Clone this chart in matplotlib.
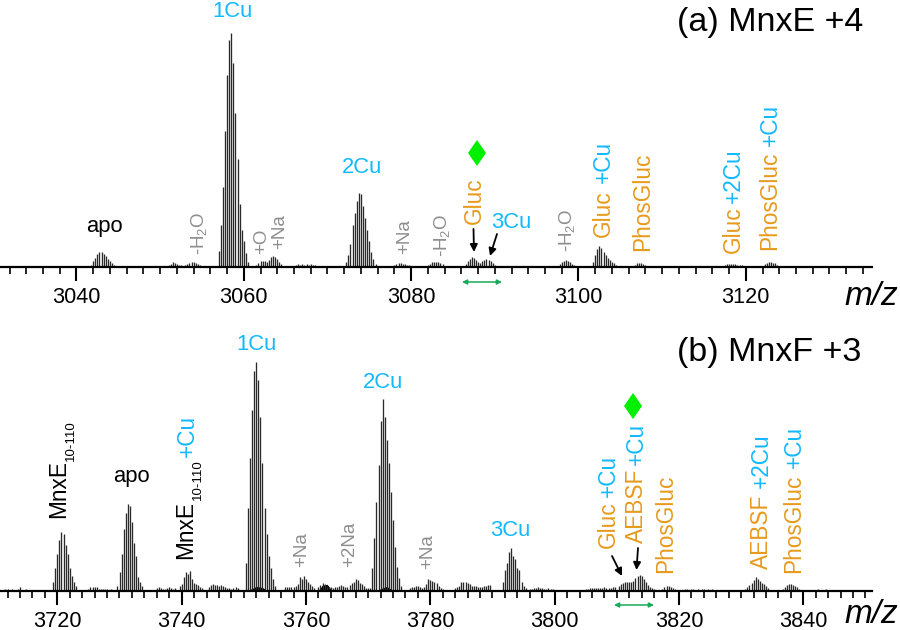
"""MnxE / MnxF native mass spectra, two stacked panels."""

import matplotlib
matplotlib.use("Agg")

import matplotlib.pyplot as plt

plt.rcParams["font.family"] = ["Liberation Sans", "DejaVu Sans"]
plt.rcParams["mathtext.fontset"] = "custom"
plt.rcParams["mathtext.rm"] = "Liberation Sans"
plt.rcParams["mathtext.it"] = "Liberation Sans:italic"
plt.rcParams["mathtext.default"] = "regular"

CYAN = "#12B9FF"
ORANGE = "#E79A1C"
GRAY = "#8E8E8E"
GREEN = "#1AA85A"
LIME = "#00F000"

# panel (a): isotope envelopes, first m/z and relative intensity (%), spacing 1/4
a_starts = [3041.75, 3048.5, 3051.0, 3053.0, 3057.0, 3061.5, 3066.0, 3072.25,
            3077.75, 3082.0, 3086.5, 3088.25, 3097.5, 3101.75, 3106.5, 3117.5, 3122.0]
a_apo = [1, 2.5, 4, 5.5, 6.4, 6.4, 5.5, 4.5, 3.5, 2.5, 1.5, 0.8, 0.4]
a_bg1 = [0.4, 0.5, 0.5, 0.6, 0.5, 0.5, 0.6, 0.5, 0.6, 0.5]
a_bg2 = [0.8, 1.4, 2, 1.9, 1.4, 1.0, 0.7, 0.5, 0.4]
a_h2o1 = [0.8, 1.2, 1.8, 2, 2, 1.6, 1.4, 1.0, 0.6, 0.3]
a_1cu = [7, 18, 34, 58, 82, 97, 100, 87, 66, 46, 27, 16, 11, 6, 2]
a_na1 = [0.8, 1.6, 2.4, 2.6, 2.5, 2.3, 3.0, 4.2, 4.5, 4.3, 3.4, 2.0, 1.2, 0.6]
a_bg3 = [0.6, 1.0, 1.1, 1.0, 1.1, 1.0, 1.1, 1.0, 1.1, 1.0, 0.8, 0.5]
a_2cu = [2, 5, 10, 18, 23, 28, 31.6, 31, 26, 21, 16, 11, 6.4, 3.6, 1.4]
a_na2 = [0.5, 0.8, 1.2, 1.7, 1.7, 1.4, 1.2, 1.0, 0.7, 0.4]
a_h2o2 = [0.7, 1.3, 2, 2.3, 2.3, 2.0, 1.7, 1.2, 0.6]
a_gluc = [1.2, 2.5, 3.6, 4.3, 4.0, 3.2, 2.2]
a_3cu = [1.5, 2.6, 3.2, 3.4, 3.0, 2.5, 1.8, 1.0, 0.5]
a_h2o3 = [0.6, 1.2, 2, 2.6, 2.8, 2.5, 2.0, 1.4, 0.8, 0.4]
a_gluc_cu = [2, 5, 7.5, 8.8, 8, 6.5, 5.3, 4, 3, 2.2, 1.6, 1.0, 0.5]
a_phos = [0.5, 1.0, 1.5, 1.7, 1.5, 1.2, 0.9, 0.6, 0.3]
a_gluc_2cu = [0.7, 1.2, 1.4, 1.4, 1.3, 1.1, 1.0, 0.9, 0.7, 0.4]
a_phos_cu = [0.6, 1.1, 1.7, 2.1, 2.1, 1.9, 1.5, 1.0, 0.4]

# panel (b): same thing, spacing 1/3
b_starts = [3711.33, 3714.0, 3719.33, 3725.0, 3729.67, 3736.0, 3739.67, 3744.33,
            3750.33, 3756.67, 3758.67, 3762.0, 3765.0, 3770.67, 3776.67, 3779.0,
            3784.0, 3791.67, 3796.0, 3805.0, 3810.33, 3817.33, 3821.0, 3830.67, 3836.67, 3842.0]
b_bg1 = [0.5, 0.7, 0.6, 0.5, 0.6, 0.5, 0.4, 0.6]
b_bg2 = [1.4, 0.5, 0.5, 0.6, 0.4, 0.5]
b_mnxe = [4, 10, 16, 22, 25.5, 24.8, 20, 16, 10, 6.5, 4, 2]
b_bg3 = [0.8, 1.5, 1.8, 1.7, 1.4, 0.9, 0.7, 0.6, 0.8, 0.6, 0.5, 0.7]
b_apo = [2, 8, 16, 27, 34, 38, 37, 30, 21, 15, 6, 4, 2]
b_bg4 = [1.0, 1.5, 1.2, 0.9, 0.7, 1.0, 1.4, 1.1, 0.8, 1.2]
b_mnxe_cu = [2, 3, 6, 8, 7.5, 8.7, 5, 3.5, 3, 2.5, 1.5, 1]
b_bg5 = [1.5, 2.5, 2.8, 2.6, 2.4, 2.2, 2.6, 2.2, 1.8, 1.3, 1.0, 0.8, 1.0, 1.5, 1.0]
b_1cu = [12, 36, 58, 79, 96, 100, 92, 76, 56, 36, 25, 15, 10, 5, 2]
b_bg6 = [1.6, 1.7, 1.4, 1.5, 1.8, 2.0]
b_na1 = [3, 6, 5, 6.5, 5, 4, 3, 2, 1]
b_bg7 = [1.5, 2.4, 3.2, 3.0, 2.2, 1.6, 1.4, 1.2, 1.5]
b_2na = [1.5, 2.0, 2.4, 2.0, 1.7, 1.5, 2.5, 3.2, 3.8, 5, 4.6, 3.5, 3, 2, 1.2, 1.0, 1.3]
b_2cu = [10, 23, 39, 55, 74, 84, 76, 66, 56, 43, 31, 19, 10.5, 5.4, 2]
b_bg8 = [1.0, 1.4, 1.6, 1.9, 2.2, 1.4, 1.0]
b_na3 = [1.5, 2.8, 5, 4.6, 4.2, 4, 3.2, 2, 1.2, 0.8]
b_bg9 = [1.0, 1.6, 2.2, 3.8, 4.0, 3.9, 3.2, 2.8, 2.2, 2.0, 2.0, 1.8, 1.7, 1.8, 1.9, 2.2, 2.4, 2.6]
b_3cu = [3.6, 9, 12, 17, 18.5, 15, 14, 10, 9, 4, 2, 1]
b_bg10 = [0.8, 0.9, 1.1, 1.2, 1.5, 1.3, 1.1, 0.8, 0.9, 1.0, 0.7, 0.6]
b_bg11 = [0.6, 0.9, 1.0, 1.2, 1.3, 1.1, 1.0, 1.1, 1.2, 1.4, 1.2, 1.0, 1.2, 1.5, 1.6]
b_gluc_aebsf = [2, 2.8, 3.4, 3.6, 3.8, 3.6, 3.9, 4.2, 5.5, 6.4, 7, 6.6, 5, 3.8, 2.6, 1.8, 1.2, 0.8]
b_phos = [0.8, 1.4, 2, 1.9, 1.5, 1.0, 0.6]
b_bg12 = [0.6, 0.7, 0.5, 0.6, 0.7, 0.5, 0.6, 0.5, 0.7, 0.6, 0.5, 0.6, 0.5, 0.6]
b_aebsf_2cu = [0.8, 1.6, 2.4, 3.2, 4.8, 6, 5, 4.4, 3.4, 2.8, 2.0, 1.2]
b_phos_cu = [0.8, 1.5, 2.4, 2.8, 3, 2.6, 2.0, 1.4, 0.9, 0.5]
b_bg13 = [0.5, 0.6, 0.5, 0.4, 0.5, 0.6, 0.5, 0.4]

# the broad black humps under the strongest envelopes in (b)
lump_mz = [3750.5, 3751.5, 3752.0, 3753.0, 3753.8, 3762.0, 3762.6, 3763.4, 3764.2,
           3771.3, 3772.3, 3773.0, 3774.0]
lump_int = [0, 1.2, 1.9, 1.4, 0, 0, 2.4, 2.8, 0, 0, 1.2, 1.9, 0]

a_clusters = [a_apo, a_bg1, a_bg2, a_h2o1, a_1cu, a_na1, a_bg3, a_2cu, a_na2, a_h2o2,
              a_gluc, a_3cu, a_h2o3, a_gluc_cu, a_phos, a_gluc_2cu, a_phos_cu]
b_clusters = [b_bg1, b_bg2, b_mnxe, b_bg3, b_apo, b_bg4, b_mnxe_cu, b_bg5, b_1cu, b_bg6,
              b_na1, b_bg7, b_2na, b_2cu, b_bg8, b_na3, b_bg9, b_3cu, b_bg10, b_bg11,
              b_gluc_aebsf, b_phos, b_bg12, b_aebsf_2cu, b_phos_cu, b_bg13]

a_ticks = [3040, 3060, 3080, 3100, 3120]
b_ticks = [3720, 3740, 3760, 3780, 3800, 3820, 3840]

W, H = 900, 630


def draw_panel(fig, baseline_px, top_px, px_per_pct, xlim, starts, clusters, spacing, ticks):
    ax = fig.add_axes([0, 1 - baseline_px / H, 871.7 / W, (baseline_px - top_px) / H])
    ax.patch.set_alpha(0)
    for start, heights in zip(starts, clusters):
        mz = [start + i * spacing for i in range(len(heights))]
        ax.vlines(mz, 0, heights, color="#2a2a2a", linewidth=0.95)
    ax.set_xlim(*xlim)
    ax.set_ylim(0, (baseline_px - top_px) / px_per_pct)
    for side in ("left", "right", "top"):
        ax.spines[side].set_visible(False)
    ax.spines["bottom"].set_linewidth(1.6)
    ax.set_yticks([])
    ax.set_xticks(ticks)
    minor = range(int(xlim[0]) + 1, int(xlim[1]) + 1)
    ax.set_xticks([m for m in minor if m % 2 == 0], minor=True)
    ax.tick_params(axis="x", which="major", length=10, width=1.5, pad=4.5, labelsize=15.6)
    ax.tick_params(axis="x", which="minor", length=5, width=1.2)
    return ax


fig = plt.figure(figsize=(W / 100, H / 100), dpi=100)
ax_a = draw_panel(fig, 267, 0, 2.34, (3030.86, 3135.05), a_starts, a_clusters, 0.25, a_ticks)
ax_b = draw_panel(fig, 590.7, 320, 2.287, (3710.78, 3851.0), b_starts, b_clusters, 1 / 3, b_ticks)
ax_b.fill_between(lump_mz, 0, lump_int, color="black", linewidth=0)

# annotations live on a pixel-sized overlay
ov = fig.add_axes([0, 0, 1, 1])
ov.set_xlim(0, W)
ov.set_ylim(H, 0)
ov.axis("off")


def flat(x, y, s, color="black", size=15.8):
    ov.text(x, y, s, color=color, fontsize=size, ha="center", va="baseline")


def up(x, y, s, color=ORANGE, size=16.3):
    ov.text(x, y, s, color=color, fontsize=size, rotation=90, ha="center", va="bottom")


def arrow(x0, y0, x1, y1):
    ov.annotate("", xy=(x1, y1), xytext=(x0, y0),
                arrowprops=dict(arrowstyle="-|>", color="black", lw=1.3, mutation_scale=11,
                                shrinkA=0, shrinkB=0))


def span(x0, x1, y):
    ov.annotate("", xy=(x1, y), xytext=(x0, y),
                arrowprops=dict(arrowstyle="<|-|>", color=GREEN, lw=1.1, mutation_scale=7,
                                shrinkA=0, shrinkB=0))


def diamond(x, y):
    ov.fill([x - 9, x, x + 9, x], [y, y - 13, y, y + 13], color=LIME, linewidth=0)


H2O = "-H$_2$O"

# panel (a)
ov.text(677, 31, "(a) MnxE +4", fontsize=24.5, ha="left", va="baseline")
flat(233, 17, "1Cu", CYAN)
flat(362, 173, "2Cu", CYAN)
flat(104, 232, "apo")
flat(511, 228, "3Cu", CYAN)
up(199, 255, H2O, GRAY, 13.5)
up(262, 254, "+O", GRAY, 13.5)
up(280, 249, "+Na", GRAY, 13.5)
up(405, 254, "+Na", GRAY, 13.5)
up(442, 257, H2O, GRAY, 13.5)
up(567, 252, H2O, GRAY, 13.5)
up(474, 224, "Gluc")
up(603, 237, "Gluc")
up(603, 183, "+Cu", CYAN)
up(643, 251, "PhosGluc")
up(733, 253, "Gluc")
up(733, 203, "+2Cu", CYAN)
up(770, 250, "PhosGluc")
up(770, 146, "+Cu", CYAN)
arrow(473.5, 229, 474, 252)
arrow(497, 234, 490, 256)
span(462, 502, 282)
diamond(477, 153)
ov.text(898, 305, "m/z", fontsize=24, style="italic", ha="right", va="baseline")

# panel (b)
ov.text(677, 361, "(b) MnxF +3", fontsize=24.5, ha="left", va="baseline")
flat(257, 350, "1Cu", CYAN)
flat(383, 388, "2Cu", CYAN)
flat(131, 482, "apo")
flat(510, 536, "3Cu", CYAN)
up(59, 518, "MnxE", "black")
up(71, 461, "10-110", "black", 9.5)
up(186, 559, "MnxE", "black")
up(198, 500, "10-110", "black", 9.5)
up(187, 457, "+Cu", CYAN)
up(302, 567, "+Na", GRAY, 13.5)
up(350, 567, "+2Na", GRAY, 13.5)
up(428, 569, "+Na", GRAY, 13.5)
up(608, 548, "Gluc")
up(608, 497, "+Cu", CYAN)
up(636, 543, "AEBSF")
up(636, 465, "+Cu", CYAN)
up(666, 573, "PhosGluc")
up(761, 569, "AEBSF")
up(761, 488, "+2Cu", CYAN)
up(794, 573, "PhosGluc")
up(794, 468, "+Cu", CYAN)
arrow(612, 556, 622, 576)
arrow(638, 548, 636.5, 570)
span(614, 654, 605)
diamond(633, 406)
ov.text(898, 623, "m/z", fontsize=24, style="italic", ha="right", va="baseline")

fig.savefig("out.png", dpi=100)
plt.close(fig)
